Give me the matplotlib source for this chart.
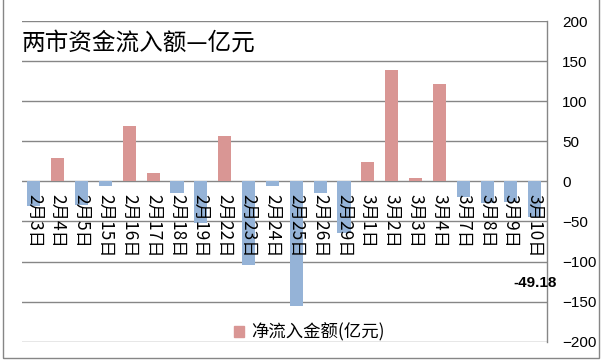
import matplotlib
matplotlib.use("Agg")
import matplotlib.pyplot as plt
from matplotlib.patches import Patch, Rectangle
import numpy as np

plt.rcParams['font.family'] = ['Noto Sans CJK SC', 'DejaVu Sans']

categories = ["2月3日", "2月4日", "2月5日", "2月15日", "2月16日", "2月17日", "2月18日",
              "2月19日", "2月22日", "2月23日", "2月24日", "2月25日", "2月26日", "2月29日",
              "3月1日", "3月2日", "3月3日", "3月4日", "3月7日", "3月8日", "3月9日", "3月10日"]
values = [-31, 29, -29, -5.5, 69, 10.4, -14, -52, 56.6, -104, -5.5, -155.5, -15, -65,
          24, 139, 4, 121.6, -20, -27.5, -25.5, -45]
yticks = [200, 150, 100, 50, 0, -50, -100, -150, -200]
title = "两市资金流入额—亿元"
series_name = "净流入金额(亿元)"
last_label = "-49.18"

POS = "#D99694"
NEG = "#95B3D7"
GRID = "#868686"

W, H = 603, 361
fig = plt.figure(figsize=(W / 100, H / 100), dpi=100)
ax = fig.add_axes([22 / W, 1 - 341.6 / H, (546.7 - 22) / W, (341.6 - 21.3) / H])

x = np.arange(len(categories))
colors = [POS if v >= 0 else NEG for v in values]
ax.bar(x, values, width=0.55, color=colors, zorder=3)

ax.set_xlim(-0.5, len(categories) - 0.5)
ax.set_ylim(-200, 200)
ax.set_yticks(yticks)
for t in yticks:
    ax.axhline(t, color=GRID, lw=1.0, zorder=1)

ax.yaxis.tick_right()
ax.tick_params(axis='y', length=0, pad=11, labelsize=11)
for lab in ax.get_yticklabels():
    lab.set_family('Liberation Sans')
    lab.set_horizontalalignment('left')
ax.set_xticks([])
for s in ['top', 'left', 'bottom']:
    ax.spines[s].set_visible(False)
ax.spines['right'].set_color(GRID)
ax.spines['right'].set_linewidth(1.0)

# category labels just below the zero line
for xi, c in zip(x, categories):
    ax.annotate(c, xy=(xi, 0), xytext=(0, -9), textcoords='offset points',
                rotation=270, ha='center', va='top', fontsize=12.5,
                fontweight='light', color='black', zorder=4)

# data label for last bar
ax.annotate(last_label, xy=(x[-1], values[-1]), xytext=(0, -47),
            textcoords='offset points', ha='center', va='center',
            fontsize=11, fontweight='bold', family='Liberation Sans', zorder=5)

# title
fig.text(22 / W, 1 - 43.5 / H, title, fontsize=17, fontweight='medium',
         ha='left', va='center')

# legend
leg = fig.legend(handles=[Patch(color=POS, label=series_name)],
                 loc='center left', bbox_to_anchor=(234 / W, 1 - 332 / H),
                 frameon=False, handlelength=0.6, handleheight=0.6,
                 handletextpad=0.4, borderpad=0, borderaxespad=0,
                 prop={'size': 12.5, 'weight': 'light',
                       'family': ['Noto Sans CJK SC', 'DejaVu Sans']})

# outer border
fig.add_artist(Rectangle((2.5 / W, 1 - 358 / H), (598.5 - 2.5) / W, 370 / H,
                         transform=fig.transFigure, fill=False, edgecolor=GRID,
                         lw=1.0, clip_on=False))

fig.savefig("out.png", dpi=100)
